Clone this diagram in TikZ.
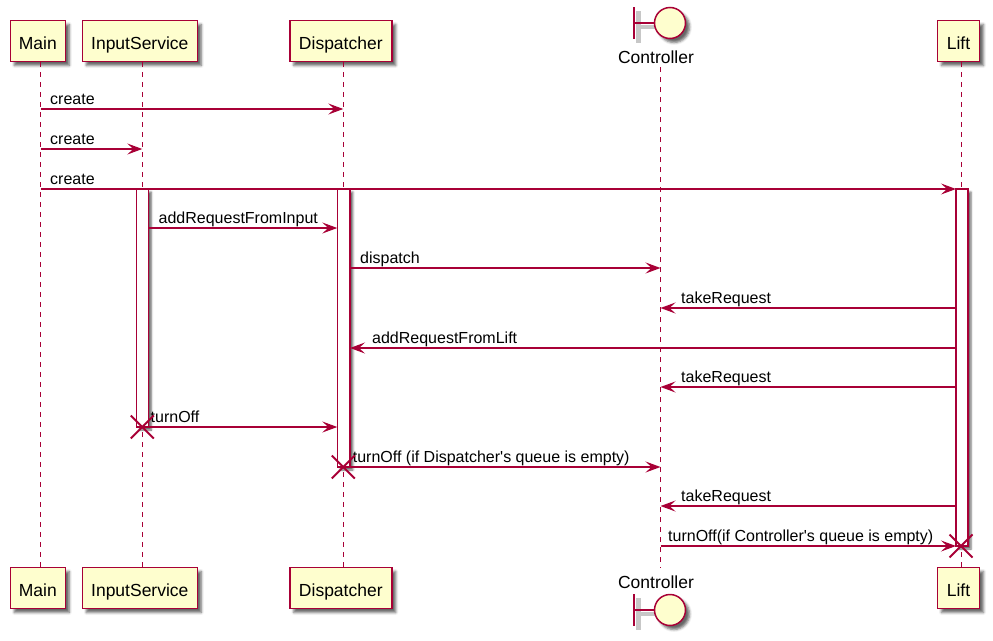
\documentclass[tikz,border=0pt]{standalone}
\usepackage{fontspec}
\setmainfont{Liberation Sans}[Ligatures=TeXOff]
\usetikzlibrary{arrows.meta,shadows.blur}
\definecolor{pbord}{HTML}{A80036}
\definecolor{pfill}{HTML}{FEFECE}
\begin{document}
\begin{tikzpicture}[x=1pt,y=-1pt,
  part/.style={draw=pbord,fill=pfill,line width=1.5pt,minimum height=41pt,inner sep=0pt,
    font=\fontsize{17.5}{20}\selectfont,text height=16pt,text depth=0pt,
    blur shadow={shadow xshift=4pt,shadow yshift=-4pt,shadow blur radius=2.5pt,shadow opacity=60}},
  lifeline/.style={draw=pbord,line width=1pt,dash pattern=on 5pt off 5pt},
  actbar/.style={draw=pbord,fill=white,line width=1.3pt,inner sep=0pt,
    blur shadow={shadow xshift=3pt,shadow yshift=-3pt,shadow blur radius=2pt,shadow opacity=60}},
  msgarrow/.style={draw=pbord,line width=1.3pt,-{Stealth[length=15pt,width=11pt,inset=6pt]}},
  msg/.style={font=\fontsize{16}{18}\selectfont,anchor=base west,inner sep=0pt},
  xmark/.style={draw=pbord,line width=2pt},
  bnd/.style={circle,draw=pbord,fill=pfill,line width=1.5pt,minimum size=31pt,inner sep=0pt,
    blur shadow={shadow xshift=4pt,shadow yshift=-4pt,shadow blur radius=2.5pt,shadow opacity=60}},
  bndlabel/.style={font=\fontsize{17.5}{20}\selectfont,anchor=base,inner sep=0pt}
]
\useasboundingbox (0,0) rectangle (993,640);

% participants top
\node[part,minimum width=55pt]  (mainT) at (37.8,41) {Main};
\node[part,minimum width=115pt] (inT)   at (139.8,41) {InputService};
\node[part,minimum width=102pt] (dispT) at (340.8,41) {Dispatcher};
\node[part,minimum width=42pt]  (liftT) at (958.5,41) {Lift};
% participants bottom
\node[part,minimum width=55pt]  (mainB) at (37.8,588) {Main};
\node[part,minimum width=115pt] (inB)   at (139.8,588) {InputService};
\node[part,minimum width=102pt] (dispB) at (340.8,588) {Dispatcher};
\node[part,minimum width=42pt]  (liftB) at (958.5,588) {Lift};

% boundary Controller top
\draw[black!22,line width=4.5pt] (638.5,11) -- (638.5,43);
\draw[black!22,line width=4pt] (640,27) -- (658,27);
\draw[pbord,line width=2pt] (634,7) -- (634,39);
\node[bnd] (ctrlT) at (670,23) {};
\draw[pbord,line width=1.5pt] (634,23) -- (ctrlT.west);
\node[bndlabel] (ctrlTL) at (656,63) {Controller};
% boundary Controller bottom
\node[bndlabel] (ctrlBL) at (656,588) {Controller};
\draw[black!22,line width=4.5pt] (638.5,598) -- (638.5,630);
\draw[black!22,line width=4pt] (640,614) -- (658,614);
\draw[pbord,line width=2pt] (634,594) -- (634,626);
\node[bnd] (ctrlB) at (670,610) {};
\draw[pbord,line width=1.5pt] (634,610) -- (ctrlB.west);

% lifelines
\draw[lifeline] ([xshift=2.5pt]mainT.south) -- ([xshift=2.5pt]mainB.north);
\draw[lifeline] ([xshift=2.5pt]inT.south) -- ([xshift=2.5pt]inB.north);
\draw[lifeline] ([xshift=2.5pt]dispT.south) -- ([xshift=2.5pt]dispB.north);
\draw[lifeline] ([xshift=2.5pt]liftT.south) -- ([xshift=2.5pt]liftB.north);
\coordinate (ctrlTop) at (660.5,67);
\coordinate (ctrlBot) at (660.5,568);
\draw[lifeline] (ctrlTop) -- (ctrlBot);

% activation bars
\node[actbar,minimum width=11.6pt,minimum height=238pt] (actI) at (142.5,308) {};
\node[actbar,minimum width=12.7pt,minimum height=278pt] (actD) at (343.6,328) {};
\node[actbar,minimum width=12pt,minimum height=357pt]  (actL) at (962,367.5) {};

% message end points
\coordinate (m1s) at (40.7,109);  \coordinate (m1e) at (343.3,109);
\coordinate (m2s) at (40.7,149);  \coordinate (m2e) at (142.3,149);
\coordinate (m3s) at (40.7,189);  \coordinate (m3e) at (956,189);
\coordinate (m4s) at (148.3,228); \coordinate (m4e) at (337.3,228);
\coordinate (m5s) at (350,268);   \coordinate (m5e) at (660.5,268);
\coordinate (m6s) at (956,308);   \coordinate (m6e) at (660.5,308);
\coordinate (m7s) at (956,348);   \coordinate (m7e) at (350,348);
\coordinate (m8s) at (956,387);   \coordinate (m8e) at (660.5,387);
\coordinate (m9s) at (148.3,427); \coordinate (m9e) at (337.3,427);
\coordinate (m10s) at (350,467);  \coordinate (m10e) at (660.5,467);
\coordinate (m11s) at (956,506);  \coordinate (m11e) at (660.5,506);
\coordinate (m12s) at (660.5,546);\coordinate (m12e) at (956,546);

\draw[msgarrow] (m1s) -- (m1e);
\draw[msgarrow] (m2s) -- (m2e);
\draw[msgarrow] (m3s) -- (m3e);
\draw[msgarrow] (m4s) -- (m4e);
\draw[msgarrow] (m5s) -- (m5e);
\draw[msgarrow] (m6s) -- (m6e);
\draw[msgarrow] (m7s) -- (m7e);
\draw[msgarrow] (m8s) -- (m8e);
\draw[msgarrow] (m9s) -- (m9e);
\draw[msgarrow] (m10s) -- (m10e);
\draw[msgarrow] (m11s) -- (m11e);
\draw[msgarrow] (m12s) -- (m12e);

% labels
\node[msg] (l1) at (50,104) {create};
\node[msg] (l2) at (50,144) {create};
\node[msg] (l3) at (50,184) {create};
\node[msg] (l4) at (158.5,223) {addRequestFromInput};
\node[msg] (l5) at (360,263) {dispatch};
\node[msg] (l6) at (681,303) {takeRequest};
\node[msg] (l7) at (372,343) {addRequestFromLift};
\node[msg] (l8) at (681,382) {takeRequest};
\node[msg] (l9) at (150.5,422) {turnOff};
\node[msg] (l10) at (352.7,462) {turnOff (if Dispatcher's queue is empty)};
\node[msg] (l11) at (681,501) {takeRequest};
\node[msg] (l12) at (668,541) {turnOff(if Controller's queue is empty)};

% destroy marks
\coordinate (d1) at (142.3,427);
\coordinate (d2) at (343.3,467);
\coordinate (d3) at (961,546);
\foreach \d in {d1,d2,d3}{
  \draw[xmark] ([shift={(-11.5,-11.5)}]\d) -- ([shift={(11.5,11.5)}]\d);
  \draw[xmark] ([shift={(-11.5,11.5)}]\d) -- ([shift={(11.5,-11.5)}]\d);
}
\end{tikzpicture}
\end{document}
